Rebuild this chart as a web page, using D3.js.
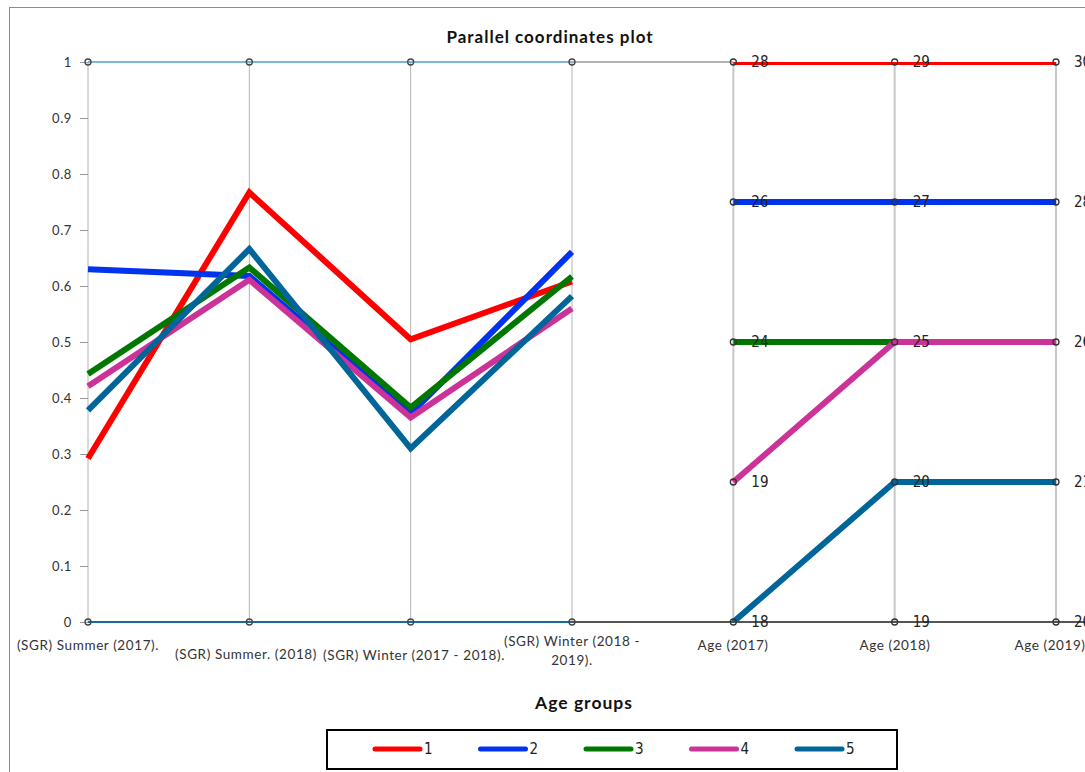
<!DOCTYPE html>
<html>
<head>
<meta charset="utf-8">
<script src="https://cdn.jsdelivr.net/npm/d3@7"></script>
<style>
  html, body { margin: 0; padding: 0; background: #fff; }
  svg { display: block; }
</style>
</head>
<body>
<svg id="chart" width="1085" height="772"></svg>
<script>
// ---------------- data ----------------
const categories = [
  ["(SGR) Summer (2017)."],
  ["(SGR) Summer. (2018)"],
  ["(SGR) Winter (2017 - 2018)."],
  ["(SGR) Winter (2018 -", "2019)."],
  ["Age (2017)"],
  ["Age (2018)"],
  ["Age (2019)"]
];
const groups = ["1", "2", "3", "4", "5"];
const groupColors = ["#ff0000", "#0033ee", "#007700", "#cc3399", "#006699"];

// normalised SGR values (4 SGR axes) per group
const sgr1 = [0.292, 0.767, 0.505, 0.608];
const sgr2 = [0.630, 0.618, 0.372, 0.661];
const sgr3 = [0.443, 0.633, 0.383, 0.617];
const sgr4 = [0.421, 0.611, 0.365, 0.560];
const sgr5 = [0.378, 0.666, 0.310, 0.582];
const sgrValues = [sgr1, sgr2, sgr3, sgr4, sgr5];

// ages per group (Age 2017, Age 2018, Age 2019)
const age1 = [28, 29, 30];
const age2 = [26, 27, 28];
const age3 = [24, 25, 26];
const age4 = [19, 25, 26];
const age5 = [18, 20, 21];
const ageValues = [age1, age2, age3, age4, age5];

// tick labels on the age axes (bottom to top)
const ageTicks2017 = [18, 19, 24, 26, 28];
const ageTicks2018 = [19, 20, 25, 27, 29];
const ageTicks2019 = [20, 21, 26, 28, 30];
const ageTicks = [ageTicks2017, ageTicks2018, ageTicks2019];

const yTickValues = [0, 0.1, 0.2, 0.3, 0.4, 0.5, 0.6, 0.7, 0.8, 0.9, 1];

// ---------------- layout ----------------
const svg = d3.select("#chart");
const W = 1085, H = 772;
const plotTop = 62, plotBottom = 622;
const axisFont = "Lato, 'Open Sans', 'Noto Sans', sans-serif";
const narrowFont = "'DejaVu Sans Condensed', 'Liberation Sans Narrow', sans-serif";

// outer border
svg.append("rect").attr("x", 9.5).attr("y", 7.5).attr("width", W + 10).attr("height", H + 10)
  .attr("fill", "none").attr("stroke", "#8c8c8c").attr("stroke-width", 1);

const x = d3.scalePoint().domain(d3.range(categories.length)).range([88, 1056]);
const y = d3.scaleLinear().domain([0, 1]).range([plotBottom, plotTop]);
const ageScales = ageTicks.map(t => d3.scalePoint().domain(t).range([plotBottom, plotTop]));

// title
svg.append("text").attr("x", 550).attr("y", 43).attr("text-anchor", "middle")
  .attr("font-family", axisFont).attr("font-weight", "bold").attr("font-size", 17)
  .attr("letter-spacing", 1.0)
  .attr("fill", "#111").text("Parallel coordinates plot");

// vertical axis lines
categories.forEach((c, i) => {
  const isAge = i >= 4;
  svg.append("line").attr("x1", x(i)).attr("x2", x(i)).attr("y1", plotTop).attr("y2", plotBottom)
    .attr("stroke", isAge ? "#c8c8c8" : "#b4b4b4").attr("stroke-width", isAge ? 2 : 1);
});

// horizontal boundary lines
svg.append("line").attr("x1", x(0)).attr("x2", x(3)).attr("y1", y(1)).attr("y2", y(1))
  .attr("stroke", "#4f9ccc").attr("stroke-width", 1.5);
svg.append("line").attr("x1", x(3)).attr("x2", x(4)).attr("y1", y(1)).attr("y2", y(1))
  .attr("stroke", "#9a9a9a").attr("stroke-width", 1.5);
svg.append("line").attr("x1", x(0)).attr("x2", x(3)).attr("y1", y(0)).attr("y2", y(0))
  .attr("stroke", "#1b6a9c").attr("stroke-width", 2.2);
svg.append("line").attr("x1", x(3)).attr("x2", W + 5).attr("y1", y(0)).attr("y2", y(0))
  .attr("stroke", "#555").attr("stroke-width", 2);

// left y axis
const yAxis = d3.axisLeft(y).tickValues(yTickValues).tickSize(8).tickPadding(8)
  .tickFormat(d => d3.format("~g")(d));
const gy = svg.append("g").attr("transform", `translate(${x(0)},0)`).call(yAxis);
gy.select(".domain").remove();
gy.selectAll(".tick line").attr("stroke", "#999");
gy.selectAll(".tick text").attr("font-family", axisFont).attr("font-size", 13)
  .attr("letter-spacing", 0.6).attr("fill", "#333");

// clip for series lines
svg.append("clipPath").attr("id", "plotclip").append("rect")
  .attr("x", 0).attr("y", plotTop).attr("width", W).attr("height", plotBottom - plotTop);

// series
const lineGen = d3.line().x(d => d[0]).y(d => d[1]);
const gLines = svg.append("g").attr("clip-path", "url(#plotclip)");
groups.forEach((g, gi) => {
  const sgrPts = sgrValues[gi].map((v, i) => [x(i), y(v)]);
  gLines.append("path").datum(sgrPts).attr("d", lineGen)
    .attr("fill", "none").attr("stroke", groupColors[gi]).attr("stroke-width", 6)
    .attr("stroke-linejoin", "miter").attr("stroke-linecap", "butt");
  const agePts = ageValues[gi].map((v, i) => [x(i + 4), ageScales[i](v)]);
  gLines.append("path").datum(agePts).attr("d", lineGen)
    .attr("fill", "none").attr("stroke", groupColors[gi]).attr("stroke-width", 6)
    .attr("stroke-linejoin", "miter").attr("stroke-linecap", "butt");
});

// markers on SGR axes (top and bottom)
for (let i = 0; i < 4; i++) {
  [0, 1].forEach(v => {
    svg.append("circle").attr("cx", x(i)).attr("cy", y(v)).attr("r", 3)
      .attr("fill", "none").attr("stroke", "#444").attr("stroke-width", 1.3);
  });
}

// age axes: markers + tick labels
ageTicks.forEach((ticks, ai) => {
  const cx = x(ai + 4);
  const sc = ageScales[ai];
  const gA = svg.append("g");
  ticks.forEach(t => {
    gA.append("circle").attr("cx", cx).attr("cy", sc(t)).attr("r", 3)
      .attr("fill", "none").attr("stroke", "#333").attr("stroke-width", 1.3);
    gA.append("text").attr("x", cx + 18).attr("y", sc(t)).attr("dy", "0.36em")
      .attr("font-family", narrowFont).attr("font-stretch", "condensed")
      .attr("font-size", 15).attr("fill", "#222").text(t);
  });
});

// category labels
const labelY = [650, 659, 660, 646, 650, 650, 650];
const labelX = [88, 246, 414, 572, 733, 895, 1050];
categories.forEach((lines, i) => {
  const t = svg.append("text").attr("text-anchor", "middle")
    .attr("font-family", axisFont).attr("font-size", 13.5).attr("letter-spacing", 0.6)
    .attr("fill", "#333");
  lines.forEach((ln, k) => {
    t.append("tspan").attr("x", labelX[i]).attr("y", labelY[i] + k * 19).text(ln);
  });
});

// x axis title
svg.append("text").attr("x", 584).attr("y", 709).attr("text-anchor", "middle")
  .attr("font-family", axisFont).attr("font-weight", "bold").attr("font-size", 17.5)
  .attr("letter-spacing", 1.0)
  .attr("fill", "#111").text("Age groups");

// legend
svg.append("rect").attr("x", 327).attr("y", 730).attr("width", 570).attr("height", 39)
  .attr("fill", "#fff").attr("stroke", "#000").attr("stroke-width", 2);
const legendX = d3.scalePoint().domain(groups).range([375, 797]);
groups.forEach((g, gi) => {
  const lx = legendX(g);
  svg.append("line").attr("x1", lx).attr("x2", lx + 45).attr("y1", 749).attr("y2", 749)
    .attr("stroke", groupColors[gi]).attr("stroke-width", 5).attr("stroke-linecap", "round");
  svg.append("text").attr("x", lx + 49).attr("y", 749).attr("dy", "0.36em")
    .attr("font-family", narrowFont).attr("font-stretch", "condensed")
    .attr("font-size", 15).attr("fill", "#222").text(g);
});
</script>
</body>
</html>
